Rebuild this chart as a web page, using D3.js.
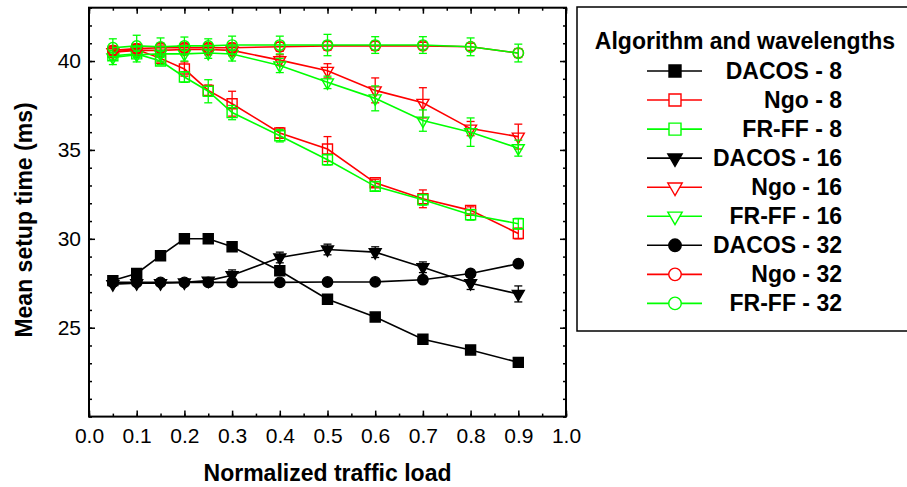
<!DOCTYPE html>
<html>
<head>
<meta charset="utf-8">
<script src="https://cdn.jsdelivr.net/npm/d3@7"></script>
<style>
  body { margin: 0; background: #fff; }
  text { font-family: "Liberation Sans", Arial, sans-serif; }
</style>
</head>
<body>
<div id="chart"></div>
<script>
// Normalized traffic load (x)
var loads = [0.05, 0.1, 0.15, 0.2, 0.25, 0.3, 0.4, 0.5, 0.6, 0.7, 0.8, 0.9];

// Mean setup time (ms) per series, with error bar half-widths
var dacos8  = [27.65, 28.05, 29.05, 30.0, 30.0, 29.55, 28.2, 26.6, 25.6, 24.35, 23.75, 23.05];
var dacos8Err = [0.1, 0.1, 0.1, 0.1, 0.1, 0.1, 0.15, 0.1, 0.1, 0.1, 0.1, 0.25];
var ngo8    = [40.5, 40.65, 40.15, 39.55, 38.35, 37.6, 35.95, 35.05, 33.15, 32.25, 31.6, 30.3];
var ngo8Err = [0.2, 0.2, 0.2, 0.4, 0.3, 0.7, 0.3, 0.7, 0.2, 0.5, 0.2, 0.3];
var frff8   = [40.3, 40.4, 40.0, 39.1, 38.3, 37.1, 35.8, 34.45, 32.95, 32.2, 31.35, 30.85];
var frff8Err = [0.2, 0.2, 0.2, 0.3, 0.65, 0.4, 0.35, 0.3, 0.25, 0.3, 0.3, 0.3];
var dacos16 = [27.45, 27.5, 27.5, 27.55, 27.65, 27.95, 28.95, 29.4, 29.25, 28.4, 27.5, 26.9];
var dacos16Err = [0.1, 0.1, 0.1, 0.1, 0.1, 0.3, 0.3, 0.3, 0.3, 0.3, 0.35, 0.45];
var ngo16   = [40.5, 40.6, 40.6, 40.65, 40.65, 40.6, 40.05, 39.45, 38.35, 37.65, 36.2, 35.75];
var ngo16Err = [0.3, 0.3, 0.3, 0.3, 0.3, 0.3, 0.3, 0.4, 0.7, 0.85, 0.4, 0.7];
var frff16  = [40.2, 40.35, 40.4, 40.4, 40.45, 40.4, 39.75, 38.8, 37.9, 36.65, 36.0, 35.1];
var frff16Err = [0.4, 0.4, 0.4, 0.4, 0.3, 0.4, 0.4, 0.35, 0.7, 0.6, 0.8, 0.45];
var dacos32 = [27.55, 27.55, 27.55, 27.55, 27.55, 27.55, 27.55, 27.57, 27.58, 27.7, 28.05, 28.6];
var dacos32Err = [0.1, 0.1, 0.1, 0.1, 0.1, 0.1, 0.1, 0.1, 0.1, 0.1, 0.1, 0.1];
var ngo32   = [40.6, 40.7, 40.75, 40.75, 40.75, 40.75, 40.8, 40.85, 40.85, 40.85, 40.8, 40.45];
var ngo32Err = [0.25, 0.25, 0.25, 0.25, 0.25, 0.25, 0.25, 0.25, 0.25, 0.2, 0.2, 0.25];
var frff32  = [40.75, 40.85, 40.8, 40.85, 40.85, 40.9, 40.9, 40.9, 40.9, 40.9, 40.8, 40.45];
var frff32Err = [0.5, 0.6, 0.5, 0.5, 0.4, 0.5, 0.5, 0.6, 0.47, 0.47, 0.5, 0.5];

var seriesNames = ["DACOS - 8", "Ngo - 8", "FR-FF - 8",
                   "DACOS - 16", "Ngo - 16", "FR-FF - 16",
                   "DACOS - 32", "Ngo - 32", "FR-FF - 32"];
var seriesValues = [dacos8, ngo8, frff8, dacos16, ngo16, frff16, dacos32, ngo32, frff32];
var seriesErrors = [dacos8Err, ngo8Err, frff8Err, dacos16Err, ngo16Err, frff16Err, dacos32Err, ngo32Err, frff32Err];
var seriesColors = ["#000", "#ff0000", "#00ff00", "#000", "#ff0000", "#00ff00", "#000", "#ff0000", "#00ff00"];
var seriesShapes = ["square", "square", "square", "triangle", "triangle", "triangle", "circle", "circle", "circle"];

var xTicks = [0, 0.1, 0.2, 0.3, 0.4, 0.5, 0.6, 0.7, 0.8, 0.9, 1.0];
var yTicks = [25, 30, 35, 40];

// Chart metadata
var W = 907, H = 487;
var plot = { left: 89, right: 566, top: 7.7, bottom: 416.6 };

var svg = d3.select("#chart")
    .append("svg")
    .attr("width", W)
    .attr("height", H);

svg.append("rect").attr("width", W).attr("height", H).attr("fill", "#fff");

var x = d3.scaleLinear().domain([0, 1]).range([plot.left, plot.right]);
var y = d3.scaleLinear().domain([20, 43]).range([plot.bottom, plot.top]);

// Axes: ticks point inward on all four sides
function styleAxis(g) {
    g.select(".domain").remove();
    g.selectAll("line").attr("stroke", "#000").attr("stroke-width", 1.5);
    g.selectAll("text").attr("font-size", 21).attr("fill", "#000");
}

var xMinor = d3.range(0, 1.0001, 0.05);
var yMinor = d3.range(20, 43.001, 1);

svg.append("g").attr("transform", "translate(0," + plot.bottom + ")")
    .call(d3.axisBottom(x).tickValues(xMinor).tickSize(-3).tickFormat("")).call(styleAxis);
svg.append("g").attr("transform", "translate(0," + plot.bottom + ")")
    .call(d3.axisBottom(x).tickValues(xTicks).tickSize(-6).tickPadding(11).tickFormat(d3.format(".1f"))).call(styleAxis);
svg.append("g").attr("transform", "translate(0," + plot.top + ")")
    .call(d3.axisTop(x).tickValues(xMinor).tickSize(-3).tickFormat("")).call(styleAxis);
svg.append("g").attr("transform", "translate(0," + plot.top + ")")
    .call(d3.axisTop(x).tickValues(xTicks).tickSize(-6).tickFormat("")).call(styleAxis);

svg.append("g").attr("transform", "translate(" + plot.left + ",0)")
    .call(d3.axisLeft(y).tickValues(yMinor).tickSize(-3).tickFormat("")).call(styleAxis);
svg.append("g").attr("transform", "translate(" + plot.left + ",0)")
    .call(d3.axisLeft(y).tickValues(yTicks).tickSize(-6).tickPadding(8).tickFormat(d3.format("d"))).call(styleAxis);
svg.append("g").attr("transform", "translate(" + plot.right + ",0)")
    .call(d3.axisRight(y).tickValues(yMinor).tickSize(-3).tickFormat("")).call(styleAxis);
svg.append("g").attr("transform", "translate(" + plot.right + ",0)")
    .call(d3.axisRight(y).tickValues(yTicks).tickSize(-6).tickFormat("")).call(styleAxis);

// Frame
svg.append("rect")
    .attr("x", plot.left).attr("y", plot.top)
    .attr("width", plot.right - plot.left).attr("height", plot.bottom - plot.top)
    .attr("fill", "none").attr("stroke", "#000").attr("stroke-width", 2);

// Axis titles
svg.append("text")
    .attr("x", (plot.left + plot.right) / 2).attr("y", 481)
    .attr("text-anchor", "middle").attr("font-size", 23).attr("font-weight", "bold")
    .text("Normalized traffic load");
svg.append("text")
    .attr("transform", "translate(32,220) rotate(-90)")
    .attr("text-anchor", "middle").attr("font-size", 23).attr("font-weight", "bold")
    .text("Mean setup time (ms)");

// Marker generator
function symbolPath(shape, k) {
    if (shape === "square") return d3.symbol(d3.symbolSquare, 100 * k * k)();
    if (shape === "circle") return d3.symbol(d3.symbolCircle, 85 * k * k)();
    return d3.symbol(d3.symbolTriangle, 62 * k * k)();
}
function symbolTransform(shape, px, py) {
    return "translate(" + px + "," + py + ")" + (shape === "triangle" ? " rotate(180)" : "");
}

var line = d3.line()
    .x(function (d) { return x(d.x) })
    .y(function (d) { return y(d.y) });

seriesNames.forEach(function (name, i) {
    var color = seriesColors[i], shape = seriesShapes[i];
    var filled = color === "#000";
    var pts = loads.map(function (l, j) {
        return { x: l, y: seriesValues[i][j], e: seriesErrors[i][j] };
    });
    var g = svg.append("g");

    g.append("path").datum(pts)
        .attr("fill", "none").attr("stroke", color).attr("stroke-width", 1.6)
        .attr("d", line);

    // Error bars
    var eb = g.selectAll(".eb").data(pts).enter().append("g");
    eb.append("line")
        .attr("x1", function (d) { return x(d.x) }).attr("x2", function (d) { return x(d.x) })
        .attr("y1", function (d) { return y(d.y - d.e) }).attr("y2", function (d) { return y(d.y + d.e) })
        .attr("stroke", color).attr("stroke-width", 1.3);
    [-1, 1].forEach(function (s) {
        eb.append("line")
            .attr("x1", function (d) { return x(d.x) - 4 }).attr("x2", function (d) { return x(d.x) + 4 })
            .attr("y1", function (d) { return y(d.y + s * d.e) }).attr("y2", function (d) { return y(d.y + s * d.e) })
            .attr("stroke", color).attr("stroke-width", 1.3);
    });

    // Markers
    g.selectAll(".m").data(pts).enter().append("path")
        .attr("d", symbolPath(shape, 1))
        .attr("transform", function (d) { return symbolTransform(shape, x(d.x), y(d.y)) })
        .attr("fill", filled ? "#000" : "none")
        .attr("stroke", color).attr("stroke-width", 1.4);
});

// Legend
var legend = svg.append("g");
legend.append("rect")
    .attr("x", 577).attr("y", 7).attr("width", 340).attr("height", 324)
    .attr("fill", "#fff").attr("stroke", "#000").attr("stroke-width", 1.5);
legend.append("text")
    .attr("x", 745).attr("y", 49)
    .attr("text-anchor", "middle").attr("font-size", 23).attr("font-weight", "bold")
    .text("Algorithm and wavelengths");

seriesNames.forEach(function (name, i) {
    var cy = 71 + i * 29.05;
    var color = seriesColors[i], shape = seriesShapes[i];
    legend.append("line")
        .attr("x1", 647).attr("x2", 702).attr("y1", cy).attr("y2", cy)
        .attr("stroke", color).attr("stroke-width", 1.6);
    legend.append("path")
        .attr("d", symbolPath(shape, 1.2))
        .attr("transform", symbolTransform(shape, 675, cy))
        .attr("fill", color === "#000" ? "#000" : "#fff")
        .attr("stroke", color).attr("stroke-width", 1.4);
    legend.append("text")
        .attr("x", 842).attr("y", cy + 8)
        .attr("text-anchor", "end").attr("font-size", 23).attr("font-weight", "bold")
        .text(name);
});
</script>
</body>
</html>
